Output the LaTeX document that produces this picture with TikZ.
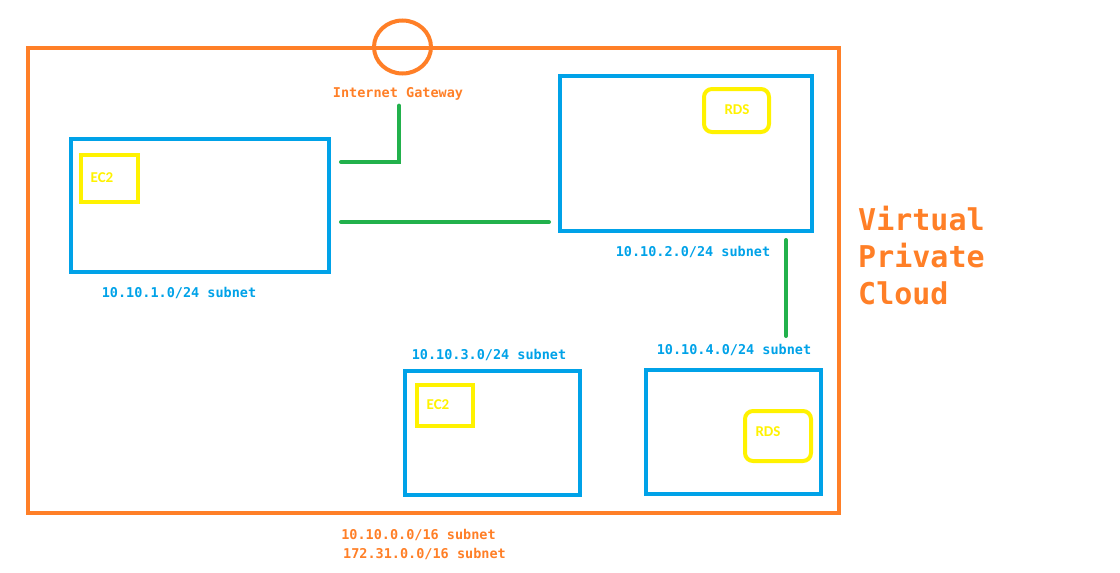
\documentclass[tikz,border=0pt]{standalone}
\usepackage{fontspec}
\setmonofont{DejaVu Sans Mono}
\setsansfont{Carlito}
\usetikzlibrary{shapes.geometric}
\definecolor{vpcor}{HTML}{FF7F27}
\definecolor{subbl}{HTML}{00A2E8}
\definecolor{lnkgr}{HTML}{22B14C}
\definecolor{resye}{HTML}{FFF200}
\tikzstyle{vpc}=[rectangle,draw=vpcor,line width=4pt,inner sep=0pt]
\tikzstyle{ring}=[ellipse,draw=vpcor,line width=4pt,inner sep=0pt]
\tikzstyle{sub}=[rectangle,draw=subbl,line width=4pt,inner sep=0pt]
\tikzstyle{ec}=[rectangle,draw=resye,line width=4pt,inner sep=0pt]
\tikzstyle{rds}=[rectangle,rounded corners=8pt,draw=resye,line width=4pt,inner sep=0pt]
\tikzstyle{res}=[text=resye,font=\sffamily\bfseries\fontsize{15}{17}\selectfont,inner sep=1pt]
\tikzstyle{lbl}=[font=\ttfamily\bfseries\fontsize{13.5}{16}\selectfont,inner sep=1pt]
\tikzstyle{link}=[draw=lnkgr,line width=4pt,line cap=round]

\begin{document}
\begin{tikzpicture}[x=1pt,y=-1pt]
\useasboundingbox (0,0) rectangle (1120,573);
\node[vpc,minimum width=810.5,minimum height=465] (vpc) at (433.25,280.5) {};
\node[ring,minimum width=57,minimum height=53] (gw) at (402.5,47) {};
\node[lbl,text=vpcor] (igw) at (398,93.5) {Internet Gateway};
\node[lbl,text=vpcor,font=\ttfamily\bfseries\fontsize{30}{37}\selectfont,align=left,anchor=west] (vpcname) at (857,256) {Virtual\\Private\\Cloud};
\node[lbl,text=vpcor] (cidra) at (418.5,534.5) {10.10.0.0/16 subnet};
\node[lbl,text=vpcor] (cidrb) at (424.5,553.5) {172.31.0.0/16 subnet};

\node[sub,minimum width=258,minimum height=133] (s1) at (200,205.5) {};
\node[ec,minimum width=57,minimum height=47] (ec1) at (109.5,178.5) {};
\node[res] (ec1txt) at (102,178) {EC2};
\node[lbl,text=subbl] (s1lbl) at (179,292.5) {10.10.1.0/24 subnet};

\node[sub,minimum width=252,minimum height=155] (s2) at (686,153.5) {};
\node[rds,minimum width=65,minimum height=43] (rds2) at (736.5,110.5) {};
\node[res] (rds2txt) at (737,110) {RDS};
\node[lbl,text=subbl] (s2lbl) at (693,251.5) {10.10.2.0/24 subnet};

\node[sub,minimum width=175,minimum height=124] (s3) at (492.5,433) {};
\node[ec,minimum width=56,minimum height=41] (ec3) at (445,405.5) {};
\node[res] (ec3txt) at (438,405) {EC2};
\node[lbl,text=subbl] (s3lbl) at (489,354.5) {10.10.3.0/24 subnet};

\node[sub,minimum width=175,minimum height=124] (s4) at (733.5,432) {};
\node[rds,minimum width=66,minimum height=50] (rds4) at (778,436) {};
\node[res] (rds4txt) at (768,432) {RDS};
\node[lbl,text=subbl] (s4lbl) at (734,349.5) {10.10.4.0/24 subnet};

\draw[link] ([xshift=10]s1.east|-0,162) -| ([xshift=1,yshift=-4.5]igw.south);
\draw[link] ([xshift=10]s1.east|-0,222) -- ([xshift=-9]s2.west|-0,222);
\draw[link] ([xshift=100,yshift=-7]s2.south) -- ([xshift=52.5,yshift=32]s4.north);
\end{tikzpicture}
\end{document}
